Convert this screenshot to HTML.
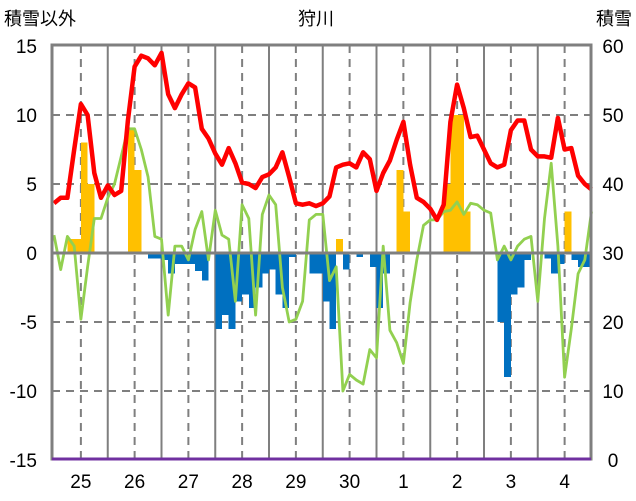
<!DOCTYPE html>
<html><head><meta charset="utf-8"><style>
body{margin:0;background:#fff;}
svg{display:block;font-family:"Liberation Sans","Noto Sans CJK JP",sans-serif;}
</style></head><body>
<svg id="chart" width="636" height="501" viewBox="0 0 636 501">
<text x="4" y="25" font-size="18" fill="#000">積雪以外</text>
<text x="316" y="25" font-size="18" text-anchor="middle" fill="#000">狩川</text>
<text x="632" y="25" font-size="18" text-anchor="end" fill="#000">積雪</text>
<g id="grid"></g><g id="bars" shape-rendering="crispEdges"></g><g id="lines"></g><g id="axes"></g>
</svg>
<script>
const dayLabels=["25","26","27","28","29","30","1","2","3","4"];
const leftTicks=[15,10,5,0,-5,-10,-15];
const rightTicks=["60","50","40","30","20","10","0"];
const redValues=[3.6,4.0,4.0,7.5,10.8,10,5.8,4.0,4.9,4.2,4.5,9.6,13.5,14.3,14.1,13.6,14.5,11.5,10.5,11.5,12.3,12,9,8.3,7.2,6.4,7.6,6.5,5.1,5.0,4.7,5.5,5.7,6.2,7.3,5.5,3.6,3.5,3.6,3.4,3.6,4.1,6.2,6.4,6.5,6.2,7.3,6.8,4.5,5.8,6.7,8.2,9.5,6.4,4.0,3.7,3.2,2.4,3.5,9.5,12.2,10.5,8.4,8.5,7.5,6.5,6.2,6.4,8.9,9.6,9.6,7.5,7.0,7.0,6.9,9.8,7.5,7.6,5.6,5.0,4.6];
const greenValues=[1.3,-1.2,1.2,0.5,-4.8,-1,2.5,2.5,4.0,5,7.0,9.0,9.0,7.5,5.5,1.2,1.0,-4.5,0.5,0.5,-0.5,1.7,3.0,-0.5,3.1,1.3,1.0,-3.5,3.5,2.5,-4.5,2.8,4.2,3.5,-2.5,-5,-4.8,-3.5,2.4,2.8,2.8,-2,-1.0,-10,-8.8,-9.2,-9.5,-7,-7.6,0.5,-5.6,-6.5,-8.0,-3.6,-0.5,2.0,2.4,2.4,3.0,3.1,3.7,2.8,3.6,3.5,3.1,2.9,-0.5,0.5,-0.5,0.5,1.0,1.2,-3.5,2.5,6.5,0.5,-9.0,-5.5,-1.5,-0.5,3.0];
const barValues=[0,0,1,1,8,5,0,0,0,0,0,9,6,0,-0.4,-0.4,-0.5,-1.5,-0.8,-0.8,-0.8,-1.3,-2,0,-5.5,-4.5,-5.5,-3.5,-3,-4,-2.5,-1.5,-1.2,-3,-4,-0.3,0,0,-1.5,-1.5,-3.5,-5.5,1,-1.2,0,-0.3,0,-1,-4,-1.5,0,6,3,0,0,0,0,0,5,10,10,3,0,0,0,0,-5,-9,-3,-2.5,-0.5,0,0,-0.4,-1.5,-0.8,3,-0.5,-1,-1];
const NS='http://www.w3.org/2000/svg';
const X0=54,DAY=53.75,STEP=DAY/8,TOP=45,BOT=459,L=52,R=591;
const xT=i=>X0+i*STEP;
const yV=v=>253-v*13.8;
function mk(tag,attrs,parent){const e=document.createElementNS(NS,tag);for(const k in attrs)e.setAttribute(k,attrs[k]);document.getElementById(parent).appendChild(e);return e;}
leftTicks.forEach((v,k)=>{
  if(Math.abs(v)!==15&&v!==0){const g=mk('line',{x1:L,x2:R,y1:yV(v),y2:yV(v),stroke:'#7f7f7f','stroke-width':2,'stroke-dasharray':'8,6'},'grid');
  
  }
  const t=mk('text',{x:37,y:yV(v)+7,'font-size':19,'text-anchor':'end',fill:'#000'},'axes');t.textContent=v;
  
  
  const r=mk('text',{x:613,y:yV(v)+7,'font-size':19,'text-anchor':'middle',fill:'#000'},'axes');r.textContent=rightTicks[k];
  
  
});
dayLabels.forEach((d,k)=>{
  const xs=X0+(k+1)*DAY;
  if(k<9){const s=mk('line',{x1:xs,x2:xs,y1:TOP,y2:BOT,stroke:'#7f7f7f','stroke-width':2},'grid');
  
  }
  const xm=X0+(k+0.5)*DAY;
  const dl=mk('line',{x1:xm,x2:xm,y1:TOP,y2:BOT,stroke:'#7f7f7f','stroke-width':2,'stroke-dasharray':'8,6'},'grid');
  
  
  const t=mk('text',{x:xm,y:488,'font-size':19,'text-anchor':'middle',fill:'#000'},'axes');t.textContent=d;
  
  
});
barValues.forEach((v,i)=>{
  if(v===0)return;
  const y1=yV(Math.max(v,0)),y2=yV(Math.min(v,0));
  const b=mk('rect',{x:xT(i),y:y1,width:STEP,height:y2-y1,fill:v>0?'#ffc000':'#0070c0'},'bars');
  
  
});
function line(vals,color,w,name){
  const d=vals.map((v,i)=>(i?'L':'M')+xT(i).toFixed(1)+','+yV(v).toFixed(1)).join('');
  const p=mk('path',{d:d,fill:'none',stroke:color,'stroke-width':w,'stroke-linejoin':'round'},'lines');
  
  
}
line(greenValues,'#92d050',2.8,'green-series-line');
line(redValues,'#ff0000',4.5,'red-series-line');
const z=mk('line',{x1:L,x2:R,y1:yV(0),y2:yV(0),stroke:'#7f7f7f','stroke-width':3},'axes');


const f=mk('rect',{x:L,y:TOP,width:R-L,height:BOT-TOP,fill:'none',stroke:'#7f7f7f','stroke-width':3},'axes');


const pu=mk('line',{x1:L,x2:R,y1:BOT,y2:BOT,stroke:'#7030a0','stroke-width':3},'axes');


</script>
</body></html>
